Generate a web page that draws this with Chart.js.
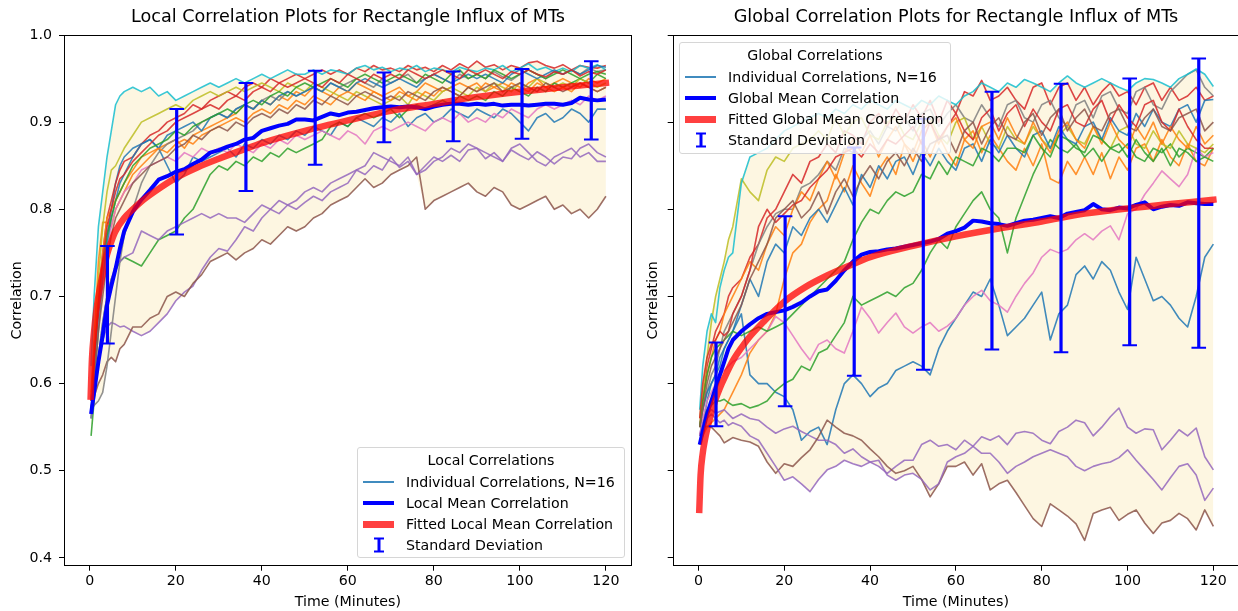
<!DOCTYPE html>
<html>
<head>
<meta charset="UTF-8">
<title>Correlation Plots for Rectangle Influx of MTs</title>
<script src="https://cdn.jsdelivr.net/npm/chart.js@4.4.0/dist/chart.umd.min.js"></script>
<style>
  html, body { margin: 0; padding: 0; background: #fff; overflow: hidden; width: 1238px; height: 611px; }
  canvas { position: absolute; top: 0; }
  .leg { position: absolute; background: rgba(255,255,255,0.8); border: 1px solid #d6d6d6; border-radius: 3px;
         box-sizing: border-box; font-family: "DejaVu Sans", sans-serif; font-size: 14.2px; color: #000; }
  .leg .ttl { position: absolute; left: 0; right: 0; text-align: center; line-height: 18px; white-space: nowrap; }
  .leg .txt { position: absolute; line-height: 18px; white-space: nowrap; }
  .leg .hd { position: absolute; }
</style>
</head>
<body>
<canvas id="cL" width="696" height="611" style="left:0"></canvas>
<canvas id="cG" width="672" height="611" style="left:620px"></canvas>

<div class="leg" style="left:357px;top:447px;width:268px;height:111px">
  <div class="ttl" style="top:3px">Local Correlations</div>
  <div class="hd" style="left:5px;top:33px;width:31px;height:1.6px;background:rgba(31,119,180,0.85)"></div>
  <div class="txt" style="left:48px;top:25px">Individual Correlations, N=16</div>
  <div class="hd" style="left:5px;top:53px;width:31px;height:4px;background:#0000ff"></div>
  <div class="txt" style="left:48px;top:46px">Local Mean Correlation</div>
  <div class="hd" style="left:5px;top:73px;width:31px;height:6.5px;background:rgba(255,0,0,0.75)"></div>
  <div class="txt" style="left:48px;top:67px">Fitted Local Mean Correlation</div>
  <svg class="hd" style="left:15px;top:89px" width="12" height="16"><path d="M6 1.5V14.5" stroke="#0000ff" stroke-width="3"/><path d="M1 1.5H11M1 14.5H11" stroke="#0000ff" stroke-width="2"/></svg>
  <div class="txt" style="left:48px;top:88px">Standard Deviation</div>
</div>

<div class="leg" style="left:679px;top:42px;width:272px;height:112px">
  <div class="ttl" style="top:3px">Global Correlations</div>
  <div class="hd" style="left:5px;top:33px;width:31px;height:1.6px;background:rgba(31,119,180,0.85)"></div>
  <div class="txt" style="left:48px;top:25px">Individual Correlations, N=16</div>
  <div class="hd" style="left:5px;top:53px;width:31px;height:4px;background:#0000ff"></div>
  <div class="txt" style="left:48px;top:46px">Global Mean Correlation</div>
  <div class="hd" style="left:5px;top:73px;width:31px;height:6.5px;background:rgba(255,0,0,0.75)"></div>
  <div class="txt" style="left:48px;top:67px">Fitted Global Mean Correlation</div>
  <svg class="hd" style="left:15px;top:89px" width="12" height="16"><path d="M6 1.5V14.5" stroke="#0000ff" stroke-width="3"/><path d="M1 1.5H11M1 14.5H11" stroke="#0000ff" stroke-width="2"/></svg>
  <div class="txt" style="left:48px;top:88px">Standard Deviation</div>
</div>

<script>
// sample times (minutes) shared by every individual run and the mean curves
const T = [0.3,1,2,3,4,5,6,7,8,
  10,12,14,16,18,20,22,24,26,28,
  30,32,34,36,38,40,42,44,46,48,
  50,52,54,56,58,60,62,64,66,68,
  70,72,74,76,78,80,82,84,86,88,
  90,92,94,96,98,100,102,104,106,108,
  110,112,114,116,118,120];

const X_TICKS = [0,20,40,60,80,100,120];
const Y_TICKS = [0.4,0.5,0.6,0.7,0.8,0.9,1.0];

// ---- local correlations, 16 runs ----
const L01 = [0.57,0.60,0.66,0.72,0.77,0.80,0.83,0.85,0.86,
  0.87,0.875,0.88,0.87,0.85,0.83,0.84,0.86,0.855,0.86,
  0.865,0.87,0.86,0.875,0.87,0.88,0.875,0.885,0.88,0.89,
  0.885,0.895,0.89,0.885,0.9,0.895,0.905,0.9,0.895,0.905,
  0.9,0.91,0.895,0.905,0.91,0.9,0.905,0.915,0.91,0.905,
  0.915,0.91,0.905,0.915,0.91,0.9,0.89,0.905,0.91,0.9,
  0.905,0.915,0.91,0.9,0.915,0.915];
const L02 = [0.59,0.65,0.74,0.785,0.785,0.78,0.80,0.81,0.82,
  0.84,0.85,0.86,0.87,0.875,0.88,0.87,0.885,0.89,0.895,
  0.9,0.905,0.91,0.92,0.915,0.925,0.92,0.93,0.925,0.935,
  0.93,0.94,0.935,0.93,0.94,0.935,0.945,0.94,0.935,0.93,
  0.935,0.94,0.93,0.935,0.945,0.94,0.935,0.94,0.945,0.94,
  0.945,0.935,0.94,0.945,0.94,0.935,0.945,0.95,0.94,0.945,
  0.95,0.945,0.94,0.95,0.945,0.95];
const L03 = [0.54,0.58,0.63,0.67,0.70,0.72,0.73,0.74,0.745,
  0.74,0.735,0.75,0.765,0.77,0.775,0.79,0.80,0.82,0.84,
  0.85,0.845,0.855,0.85,0.86,0.855,0.865,0.86,0.87,0.865,
  0.87,0.875,0.88,0.895,0.9,0.895,0.905,0.91,0.905,0.91,
  0.915,0.905,0.915,0.92,0.915,0.92,0.925,0.92,0.93,0.925,
  0.93,0.925,0.935,0.93,0.94,0.935,0.93,0.94,0.935,0.945,
  0.94,0.945,0.95,0.945,0.955,0.95];
const L04 = [0.58,0.64,0.70,0.75,0.79,0.81,0.83,0.845,0.855,
  0.86,0.875,0.885,0.89,0.9,0.905,0.91,0.92,0.915,0.925,
  0.93,0.935,0.93,0.94,0.945,0.94,0.95,0.945,0.95,0.955,
  0.95,0.955,0.96,0.955,0.96,0.955,0.962,0.958,0.965,0.96,
  0.962,0.958,0.965,0.96,0.963,0.958,0.965,0.96,0.967,0.962,
  0.97,0.963,0.966,0.96,0.965,0.962,0.968,0.97,0.965,0.962,
  0.966,0.96,0.965,0.963,0.962,0.965];
const L05 = [0.57,0.60,0.63,0.65,0.665,0.67,0.668,0.665,0.666,
  0.66,0.655,0.66,0.67,0.68,0.695,0.705,0.712,0.73,0.745,
  0.755,0.752,0.765,0.78,0.775,0.79,0.80,0.795,0.805,0.80,
  0.808,0.815,0.81,0.82,0.825,0.83,0.845,0.84,0.85,0.845,
  0.86,0.848,0.855,0.84,0.85,0.86,0.855,0.862,0.855,0.868,
  0.87,0.858,0.865,0.855,0.868,0.862,0.857,0.866,0.86,0.852,
  0.86,0.858,0.87,0.875,0.865,0.86];
const L06 = [0.58,0.585,0.60,0.61,0.625,0.63,0.625,0.64,0.645,
  0.665,0.665,0.675,0.68,0.70,0.705,0.70,0.715,0.725,0.74,
  0.745,0.75,0.742,0.75,0.755,0.765,0.76,0.77,0.78,0.775,
  0.78,0.79,0.795,0.805,0.81,0.815,0.825,0.835,0.825,0.83,
  0.84,0.845,0.85,0.86,0.80,0.81,0.815,0.82,0.825,0.83,
  0.82,0.815,0.825,0.82,0.805,0.80,0.805,0.81,0.815,0.80,
  0.805,0.795,0.80,0.79,0.80,0.815];
const L07 = [0.58,0.62,0.68,0.72,0.75,0.78,0.80,0.81,0.82,
  0.83,0.845,0.85,0.855,0.86,0.855,0.865,0.86,0.87,0.865,
  0.87,0.865,0.875,0.87,0.865,0.875,0.87,0.88,0.875,0.885,
  0.88,0.885,0.89,0.885,0.88,0.89,0.885,0.875,0.89,0.895,
  0.89,0.895,0.9,0.895,0.89,0.9,0.905,0.9,0.91,0.9,
  0.905,0.9,0.91,0.905,0.915,0.91,0.905,0.915,0.92,0.915,
  0.92,0.925,0.92,0.93,0.925,0.93];
const L08 = [0.57,0.575,0.58,0.59,0.62,0.66,0.70,0.74,0.77,
  0.80,0.83,0.85,0.865,0.875,0.88,0.885,0.89,0.9,0.905,
  0.91,0.905,0.915,0.92,0.915,0.925,0.93,0.925,0.935,0.93,
  0.935,0.94,0.935,0.945,0.94,0.945,0.95,0.945,0.94,0.95,
  0.945,0.95,0.955,0.945,0.95,0.955,0.95,0.945,0.955,0.95,
  0.955,0.95,0.958,0.952,0.948,0.955,0.96,0.955,0.95,0.958,
  0.955,0.96,0.955,0.962,0.958,0.96];
const L09 = [0.58,0.64,0.72,0.78,0.82,0.845,0.85,0.86,0.87,
  0.885,0.9,0.905,0.91,0.915,0.92,0.915,0.925,0.93,0.935,
  0.93,0.935,0.94,0.935,0.94,0.945,0.94,0.935,0.945,0.94,
  0.935,0.945,0.94,0.935,0.93,0.925,0.935,0.93,0.925,0.92,
  0.925,0.93,0.92,0.935,0.93,0.925,0.935,0.94,0.935,0.93,
  0.94,0.935,0.945,0.94,0.935,0.945,0.94,0.95,0.945,0.94,
  0.945,0.94,0.95,0.945,0.94,0.945];
const L10 = [0.62,0.70,0.78,0.82,0.86,0.89,0.92,0.93,0.935,
  0.94,0.935,0.94,0.93,0.935,0.925,0.93,0.935,0.94,0.945,
  0.94,0.945,0.95,0.945,0.95,0.955,0.95,0.955,0.96,0.955,
  0.955,0.96,0.955,0.96,0.958,0.955,0.962,0.965,0.96,0.963,
  0.958,0.962,0.96,0.965,0.958,0.962,0.96,0.957,0.963,0.96,
  0.958,0.962,0.96,0.965,0.958,0.962,0.967,0.96,0.963,0.958,
  0.962,0.958,0.965,0.962,0.966,0.96];
const L11 = [0.57,0.62,0.68,0.72,0.76,0.79,0.81,0.83,0.84,
  0.86,0.875,0.88,0.87,0.885,0.89,0.895,0.9,0.89,0.905,
  0.91,0.905,0.915,0.92,0.915,0.925,0.92,0.93,0.935,0.93,
  0.935,0.94,0.935,0.945,0.94,0.935,0.945,0.95,0.945,0.94,
  0.945,0.95,0.945,0.94,0.95,0.955,0.95,0.945,0.95,0.955,
  0.95,0.955,0.95,0.945,0.955,0.96,0.955,0.95,0.955,0.96,
  0.955,0.96,0.955,0.96,0.965,0.963];
const L12 = [0.58,0.63,0.70,0.75,0.79,0.80,0.81,0.82,0.83,
  0.845,0.86,0.865,0.87,0.865,0.875,0.88,0.875,0.885,0.89,
  0.895,0.9,0.905,0.9,0.91,0.915,0.91,0.92,0.915,0.925,
  0.92,0.93,0.925,0.92,0.93,0.935,0.93,0.925,0.935,0.93,
  0.925,0.935,0.93,0.925,0.935,0.93,0.94,0.935,0.93,0.94,
  0.935,0.945,0.94,0.935,0.945,0.94,0.935,0.945,0.94,0.935,
  0.94,0.935,0.945,0.94,0.935,0.94];
const L13 = [0.56,0.62,0.69,0.74,0.77,0.79,0.81,0.82,0.83,
  0.85,0.86,0.87,0.875,0.88,0.89,0.885,0.895,0.9,0.905,
  0.91,0.915,0.91,0.92,0.925,0.92,0.93,0.935,0.93,0.94,
  0.945,0.94,0.945,0.95,0.945,0.94,0.95,0.955,0.95,0.945,
  0.95,0.955,0.95,0.945,0.955,0.95,0.945,0.955,0.96,0.95,
  0.955,0.95,0.96,0.955,0.95,0.955,0.96,0.955,0.95,0.955,
  0.96,0.955,0.95,0.955,0.958,0.955];
const L14 = [0.58,0.63,0.69,0.74,0.78,0.80,0.82,0.835,0.84,
  0.855,0.865,0.875,0.885,0.89,0.9,0.905,0.91,0.915,0.92,
  0.915,0.925,0.93,0.925,0.935,0.94,0.935,0.945,0.94,0.945,
  0.95,0.945,0.94,0.95,0.945,0.955,0.95,0.945,0.955,0.95,
  0.955,0.95,0.96,0.955,0.95,0.955,0.96,0.955,0.95,0.96,
  0.955,0.96,0.955,0.95,0.958,0.955,0.96,0.955,0.952,0.958,
  0.955,0.96,0.953,0.958,0.955,0.96];
const L15 = [0.56,0.59,0.63,0.67,0.70,0.72,0.735,0.74,0.745,
  0.75,0.775,0.77,0.765,0.775,0.78,0.785,0.79,0.795,0.79,
  0.795,0.79,0.79,0.785,0.795,0.805,0.80,0.81,0.805,0.81,
  0.82,0.825,0.82,0.83,0.835,0.84,0.845,0.85,0.865,0.86,
  0.855,0.85,0.86,0.84,0.845,0.855,0.86,0.87,0.865,0.875,
  0.87,0.865,0.86,0.855,0.87,0.875,0.865,0.855,0.85,0.86,
  0.865,0.87,0.86,0.865,0.855,0.855];
const L16 = [0.57,0.60,0.66,0.70,0.74,0.77,0.79,0.80,0.81,
  0.83,0.84,0.85,0.855,0.86,0.87,0.875,0.885,0.88,0.89,
  0.895,0.89,0.9,0.895,0.905,0.91,0.905,0.915,0.91,0.92,
  0.915,0.925,0.92,0.93,0.925,0.92,0.93,0.935,0.93,0.925,
  0.93,0.925,0.935,0.93,0.925,0.935,0.94,0.935,0.93,0.94,
  0.935,0.94,0.945,0.935,0.94,0.945,0.94,0.935,0.945,0.94,
  0.935,0.94,0.945,0.94,0.935,0.94];

const LOCAL_MEAN = [0.565,0.59,0.625,0.655,0.69,0.712,0.732,0.755,0.775,
  0.797,0.811,0.822,0.834,0.838,0.843,0.846,0.852,0.857,0.865,
  0.868,0.872,0.875,0.88,0.882,0.89,0.893,0.896,0.898,0.903,
  0.903,0.902,0.906,0.91,0.908,0.911,0.912,0.914,0.916,0.917,
  0.918,0.917,0.918,0.917,0.915,0.918,0.92,0.921,0.921,0.92,
  0.921,0.92,0.921,0.919,0.92,0.92,0.919,0.92,0.921,0.921,
  0.92,0.922,0.928,0.926,0.925,0.926];

const FIT_T = [0.2,0.5,1,1.5,2,3,4,5,6,8,10,12,15,20,25,30,36,40,50,60,70,80,90,100,110,120];
const LOCAL_FIT = [0.585,0.628,0.66,0.683,0.70,0.726,0.748,0.763,0.775,0.79,0.80,0.809,0.82,0.836,0.848,0.858,0.869,0.876,0.89,0.902,0.913,0.921,0.929,0.935,0.94,0.945];

const ERR_T = [4.1,20.2,36.3,52.4,68.4,84.5,100.5,116.6];
const LOCAL_ERR_MID = [0.702,0.843,0.883,0.905,0.917,0.918,0.921,0.925];
const LOCAL_ERR_SD = [0.056,0.072,0.062,0.054,0.040,0.040,0.040,0.045];

// ---- global correlations, 16 runs ----
const G01 = [0.53,0.55,0.58,0.60,0.61,0.63,0.64,0.65,0.66,
  0.68,0.61,0.60,0.60,0.59,0.585,0.57,0.535,0.545,0.55,
  0.53,0.57,0.60,0.61,0.60,0.585,0.595,0.60,0.615,0.62,
  0.625,0.62,0.61,0.64,0.66,0.675,0.69,0.705,0.70,0.72,
  0.69,0.655,0.665,0.675,0.69,0.705,0.65,0.68,0.69,0.725,
  0.735,0.72,0.74,0.73,0.705,0.685,0.745,0.72,0.695,0.70,
  0.69,0.675,0.665,0.70,0.745,0.76];
const G02 = [0.53,0.54,0.55,0.555,0.56,0.565,0.57,0.58,0.59,
  0.61,0.635,0.65,0.66,0.68,0.72,0.75,0.76,0.785,0.80,
  0.81,0.84,0.82,0.85,0.83,0.815,0.845,0.86,0.84,0.875,
  0.855,0.88,0.86,0.885,0.865,0.85,0.88,0.89,0.865,0.885,
  0.87,0.855,0.845,0.87,0.85,0.875,0.835,0.83,0.855,0.84,
  0.86,0.84,0.865,0.835,0.86,0.845,0.87,0.875,0.855,0.88,
  0.86,0.85,0.875,0.855,0.85,0.87];
const G03 = [0.54,0.55,0.57,0.575,0.58,0.58,0.582,0.578,0.575,
  0.577,0.572,0.575,0.58,0.592,0.60,0.605,0.62,0.615,0.635,
  0.64,0.655,0.67,0.70,0.69,0.695,0.70,0.705,0.70,0.71,
  0.715,0.73,0.75,0.765,0.755,0.78,0.795,0.81,0.82,0.80,
  0.79,0.75,0.79,0.815,0.84,0.86,0.88,0.87,0.865,0.875,
  0.86,0.87,0.855,0.87,0.865,0.875,0.86,0.855,0.87,0.865,
  0.875,0.86,0.87,0.865,0.86,0.87];
const G04 = [0.55,0.58,0.62,0.64,0.66,0.67,0.68,0.70,0.71,
  0.72,0.745,0.76,0.79,0.80,0.82,0.84,0.83,0.855,0.86,
  0.875,0.865,0.89,0.885,0.875,0.9,0.91,0.895,0.915,0.9,
  0.92,0.905,0.925,0.9,0.925,0.91,0.935,0.93,0.948,0.925,
  0.93,0.94,0.925,0.915,0.94,0.945,0.92,0.94,0.945,0.925,
  0.94,0.92,0.935,0.945,0.93,0.935,0.92,0.94,0.945,0.925,
  0.94,0.925,0.93,0.94,0.925,0.93];
const G05 = [0.54,0.56,0.565,0.57,0.566,0.568,0.57,0.565,0.56,
  0.565,0.56,0.558,0.55,0.543,0.548,0.551,0.545,0.54,0.535,
  0.535,0.53,0.52,0.525,0.516,0.51,0.505,0.497,0.505,0.512,
  0.512,0.53,0.535,0.528,0.53,0.524,0.535,0.528,0.539,0.535,
  0.54,0.53,0.543,0.545,0.543,0.535,0.531,0.545,0.55,0.558,
  0.555,0.54,0.55,0.562,0.572,0.55,0.543,0.548,0.547,0.524,
  0.535,0.547,0.54,0.549,0.516,0.501];
const G06 = [0.54,0.55,0.551,0.55,0.545,0.54,0.532,0.535,0.538,
  0.535,0.533,0.528,0.51,0.497,0.508,0.505,0.515,0.524,0.539,
  0.558,0.55,0.543,0.54,0.535,0.525,0.516,0.505,0.497,0.50,
  0.505,0.49,0.47,0.485,0.505,0.505,0.51,0.495,0.508,0.478,
  0.485,0.489,0.475,0.46,0.445,0.436,0.462,0.455,0.448,0.439,
  0.42,0.451,0.455,0.458,0.443,0.45,0.455,0.44,0.428,0.44,
  0.443,0.451,0.445,0.432,0.455,0.436];
const G07 = [0.54,0.56,0.58,0.59,0.60,0.61,0.615,0.62,0.625,
  0.63,0.64,0.65,0.66,0.677,0.67,0.655,0.64,0.627,0.645,
  0.65,0.64,0.635,0.66,0.688,0.675,0.658,0.67,0.681,0.665,
  0.658,0.665,0.67,0.66,0.666,0.675,0.69,0.70,0.707,0.695,
  0.69,0.682,0.70,0.715,0.727,0.745,0.754,0.75,0.754,0.765,
  0.772,0.765,0.775,0.781,0.765,0.795,0.80,0.817,0.83,0.844,
  0.835,0.826,0.84,0.87,0.86,0.865];
const G08 = [0.55,0.57,0.59,0.61,0.62,0.64,0.66,0.67,0.68,
  0.70,0.73,0.76,0.78,0.795,0.80,0.80,0.825,0.83,0.84,
  0.855,0.845,0.87,0.865,0.88,0.89,0.875,0.895,0.89,0.905,
  0.89,0.91,0.915,0.895,0.91,0.92,0.905,0.9,0.92,0.905,
  0.895,0.92,0.925,0.905,0.9,0.92,0.925,0.905,0.895,0.92,
  0.925,0.905,0.93,0.935,0.915,0.91,0.935,0.94,0.92,0.915,
  0.935,0.945,0.955,0.96,0.94,0.93];
const G09 = [0.56,0.59,0.63,0.67,0.70,0.72,0.74,0.765,0.78,
  0.835,0.82,0.81,0.845,0.86,0.855,0.87,0.875,0.88,0.89,
  0.88,0.905,0.885,0.9,0.905,0.885,0.88,0.9,0.905,0.885,
  0.88,0.9,0.905,0.885,0.875,0.9,0.905,0.88,0.895,0.875,
  0.87,0.895,0.88,0.875,0.895,0.88,0.87,0.885,0.895,0.88,
  0.875,0.895,0.88,0.87,0.89,0.895,0.875,0.87,0.89,0.875,
  0.87,0.89,0.875,0.87,0.865,0.875];
const G10 = [0.57,0.62,0.66,0.68,0.67,0.71,0.73,0.745,0.75,
  0.83,0.86,0.865,0.87,0.88,0.89,0.895,0.9,0.905,0.91,
  0.905,0.915,0.91,0.92,0.915,0.925,0.92,0.915,0.925,0.92,
  0.915,0.925,0.92,0.93,0.925,0.92,0.93,0.935,0.945,0.94,
  0.935,0.945,0.94,0.949,0.945,0.94,0.935,0.945,0.953,0.945,
  0.94,0.945,0.95,0.945,0.94,0.936,0.945,0.95,0.949,0.945,
  0.94,0.95,0.955,0.961,0.955,0.941];
const G11 = [0.55,0.57,0.59,0.60,0.61,0.62,0.64,0.65,0.66,
  0.69,0.72,0.70,0.74,0.76,0.75,0.78,0.77,0.79,0.80,
  0.785,0.805,0.825,0.805,0.84,0.825,0.85,0.835,0.855,0.86,
  0.84,0.865,0.85,0.87,0.855,0.845,0.87,0.875,0.855,0.88,
  0.865,0.885,0.87,0.86,0.885,0.89,0.87,0.895,0.88,0.875,
  0.895,0.9,0.88,0.905,0.89,0.885,0.91,0.895,0.915,0.9,
  0.895,0.915,0.92,0.9,0.925,0.926];
const G12 = [0.55,0.58,0.61,0.63,0.65,0.66,0.68,0.69,0.70,
  0.72,0.74,0.73,0.76,0.78,0.77,0.80,0.82,0.81,0.835,
  0.855,0.835,0.865,0.88,0.865,0.885,0.86,0.88,0.895,0.875,
  0.865,0.89,0.9,0.875,0.895,0.905,0.88,0.87,0.895,0.9,
  0.88,0.905,0.885,0.875,0.9,0.88,0.865,0.89,0.9,0.88,
  0.87,0.895,0.875,0.9,0.88,0.87,0.895,0.88,0.9,0.875,
  0.895,0.88,0.87,0.895,0.875,0.885];
const G13 = [0.55,0.58,0.61,0.63,0.64,0.645,0.65,0.655,0.66,
  0.655,0.66,0.665,0.66,0.665,0.67,0.68,0.69,0.70,0.71,
  0.72,0.73,0.74,0.765,0.785,0.80,0.795,0.81,0.82,0.815,
  0.82,0.84,0.835,0.855,0.84,0.86,0.855,0.85,0.87,0.865,
  0.855,0.87,0.87,0.865,0.885,0.87,0.86,0.885,0.88,0.87,
  0.865,0.885,0.88,0.87,0.875,0.86,0.88,0.865,0.855,0.87,
  0.85,0.87,0.865,0.855,0.86,0.855];
const G14 = [0.56,0.60,0.63,0.645,0.65,0.66,0.655,0.66,0.68,
  0.70,0.73,0.78,0.80,0.785,0.795,0.805,0.81,0.825,0.835,
  0.845,0.86,0.865,0.87,0.86,0.875,0.865,0.88,0.875,0.885,
  0.895,0.875,0.9,0.88,0.895,0.91,0.89,0.88,0.905,0.915,
  0.89,0.91,0.92,0.895,0.915,0.9,0.89,0.915,0.92,0.9,
  0.895,0.915,0.925,0.9,0.92,0.905,0.895,0.92,0.925,0.9,
  0.89,0.915,0.895,0.88,0.87,0.87];
const G15 = [0.54,0.555,0.56,0.565,0.56,0.555,0.558,0.552,0.555,
  0.551,0.54,0.535,0.52,0.505,0.489,0.493,0.485,0.476,0.49,
  0.501,0.505,0.512,0.508,0.505,0.51,0.512,0.495,0.489,0.495,
  0.497,0.49,0.478,0.485,0.51,0.516,0.52,0.528,0.52,0.52,
  0.51,0.497,0.505,0.51,0.516,0.52,0.524,0.52,0.516,0.505,
  0.5,0.505,0.508,0.51,0.515,0.524,0.512,0.501,0.49,0.478,
  0.492,0.505,0.508,0.495,0.466,0.48];
const G16 = [0.55,0.57,0.60,0.62,0.63,0.64,0.65,0.66,0.67,
  0.69,0.72,0.74,0.76,0.79,0.80,0.81,0.79,0.80,0.82,
  0.795,0.82,0.835,0.815,0.835,0.85,0.835,0.855,0.865,0.85,
  0.87,0.855,0.875,0.88,0.885,0.865,0.89,0.9,0.875,0.895,
  0.905,0.885,0.88,0.9,0.91,0.885,0.905,0.915,0.89,0.905,
  0.915,0.895,0.89,0.91,0.915,0.895,0.89,0.905,0.915,0.895,
  0.89,0.905,0.91,0.915,0.89,0.9];

const GLOBAL_MEAN = [0.53,0.545,0.565,0.58,0.595,0.61,0.625,0.64,0.65,
  0.66,0.668,0.675,0.68,0.682,0.684,0.688,0.693,0.70,0.706,
  0.708,0.718,0.73,0.74,0.748,0.751,0.752,0.754,0.755,0.757,
  0.759,0.761,0.763,0.766,0.772,0.775,0.779,0.787,0.786,0.784,
  0.783,0.781,0.784,0.787,0.788,0.79,0.792,0.79,0.795,0.797,
  0.799,0.806,0.8,0.799,0.802,0.801,0.805,0.808,0.8,0.803,
  0.805,0.804,0.808,0.807,0.806,0.806];

const GLOBAL_FIT = [0.455,0.495,0.52,0.535,0.547,0.566,0.582,0.595,0.606,0.626,0.641,0.654,0.67,0.694,0.711,0.724,0.737,0.745,0.758,0.769,0.778,0.786,0.795,0.801,0.806,0.811];

const GLOBAL_ERR_MID = [0.599,0.683,0.740,0.760,0.787,0.790,0.797,0.807];
const GLOBAL_ERR_SD = [0.048,0.109,0.131,0.144,0.148,0.154,0.153,0.166];

const LOCAL_RUNS = [L01,L02,L03,L04,L05,L06,L07,L08,L09,L10,L11,L12,L13,L14,L15,L16];
const GLOBAL_RUNS = [G01,G02,G03,G04,G05,G06,G07,G08,G09,G10,G11,G12,G13,G14,G15,G16];

const TAB10 = ['31,119,180','255,127,14','44,160,44','214,39,40','148,103,189',
               '140,86,75','227,119,194','127,127,127','188,189,34','23,190,207'];
const FONT = 'DejaVu Sans';
const FILL = '#fdf6e1';
const CAP_HALF = 1.7;   // minutes

function pts(xs, ys) {
  return xs.map((x, i) => ({ x: x, y: ys[i] }));
}

// vertical stems of the error bars, broken with null points
function stems(xs, mid, sd) {
  const out = [];
  xs.forEach((x, i) => {
    out.push({ x: x, y: mid[i] - sd[i] }, { x: x, y: mid[i] + sd[i] }, { x: x, y: null });
  });
  return out;
}
function caps(xs, mid, sd) {
  const out = [];
  xs.forEach((x, i) => {
    const lo = mid[i] - sd[i], hi = mid[i] + sd[i];
    out.push({ x: x - CAP_HALF, y: hi }, { x: x + CAP_HALF, y: hi }, { x: x, y: null });
    out.push({ x: x - CAP_HALF, y: lo }, { x: x + CAP_HALF, y: lo }, { x: x, y: null });
  });
  return out;
}

// black box round the plot area, like the matplotlib spines
const frame = {
  id: 'frame',
  afterDatasetsDraw(chart) {
    const a = chart.chartArea, ctx = chart.ctx;
    ctx.save();
    ctx.strokeStyle = '#000';
    ctx.lineWidth = 1;
    ctx.strokeRect(Math.round(a.left) + 0.5, Math.round(a.top) + 0.5,
                   Math.round(a.right - a.left) - 1, Math.round(a.bottom - a.top) - 1);
    ctx.restore();
  }
};

function makeChart(id, opt) {
  const runs = opt.runs;
  const lo = T.map((_, i) => Math.min(...runs.map(r => r[i])));
  const hi = T.map((_, i) => Math.max(...runs.map(r => r[i])));

  const datasets = [
    { data: pts(T, lo), borderColor: 'rgba(0,0,0,0)', borderWidth: 1, fill: false, order: 50 },
    { data: pts(T, hi), borderColor: 'rgba(0,0,0,0)', borderWidth: 1, fill: '-1', backgroundColor: FILL, order: 50 }
  ];
  runs.forEach((r, i) => {
    datasets.push({ data: pts(T, r), borderColor: 'rgba(' + TAB10[i % 10] + ',0.85)',
                    borderWidth: 1.6, order: 40 - i });
  });
  datasets.push({ data: pts(T, opt.mean), borderColor: '#0000ff', borderWidth: 4, order: 3 });
  datasets.push({ data: pts(FIT_T, opt.fit), borderColor: 'rgba(255,0,0,0.75)', borderWidth: 6.5,
                  cubicInterpolationMode: 'monotone', borderCapStyle: 'square', order: 2 });
  datasets.push({ data: stems(ERR_T, opt.errMid, opt.errSd), borderColor: '#0000ff', borderWidth: 3.2,
                  borderCapStyle: 'butt', order: 1 });
  datasets.push({ data: caps(ERR_T, opt.errMid, opt.errSd), borderColor: '#0000ff', borderWidth: 2,
                  order: 0 });

  return new Chart(document.getElementById(id), {
    type: 'line',
    data: { datasets: datasets },
    plugins: [frame],
    options: {
      responsive: false,
      animation: false,
      devicePixelRatio: 1,
      events: [],
      spanGaps: false,
      elements: { point: { radius: 0 }, line: { tension: 0, borderJoinStyle: 'round' } },
      layout: { padding: 0 },
      plugins: {
        legend: { display: false },
        tooltip: { enabled: false },
        title: { display: true, text: opt.title, color: '#000',
                 font: { family: FONT, size: 17.6, weight: 'normal' }, padding: { top: 6.8, bottom: 7.1 } }
      },
      scales: {
        x: {
          type: 'linear', min: -6, max: 126,
          afterBuildTicks: s => { s.ticks = X_TICKS.map(v => ({ value: v })); },
          afterFit: s => { s.height = 45.3; },
          grid: { drawOnChartArea: false, tickLength: 5, color: '#000' },
          border: { display: false },
          ticks: { color: '#000', padding: 2, maxRotation: 0, font: { family: FONT, size: 14.2 },
                   callback: v => String(v) },
          title: { display: true, text: 'Time (Minutes)', color: '#000',
                   font: { family: FONT, size: 14.2 }, padding: { top: 0, bottom: 0.5 } }
        },
        y: {
          type: 'linear', min: 0.391, max: 1.0,
          afterBuildTicks: s => { s.ticks = Y_TICKS.map(v => ({ value: v })); },
          afterFit: s => { s.width = opt.yWidth; },
          grid: { drawOnChartArea: false, tickLength: 5, color: '#000' },
          border: { display: false },
          ticks: { color: '#000', padding: 7, font: { family: FONT, size: 14.2 },
                   callback: v => opt.yLabels ? v.toFixed(1) : '' },
          title: { display: true, text: 'Correlation', color: '#000',
                   font: { family: FONT, size: 14.2 }, padding: { top: opt.yTitlePad, bottom: 0 } }
        },
        spacer: {
          type: 'linear', position: 'right', display: true,
          grid: { display: false }, border: { display: false }, ticks: { display: false },
          afterFit: s => { s.width = opt.spacer; }
        }
      }
    }
  });
}

makeChart('cL', {
  title: 'Local Correlation Plots for Rectangle Influx of MTs',
  runs: LOCAL_RUNS, mean: LOCAL_MEAN, fit: LOCAL_FIT,
  errMid: LOCAL_ERR_MID, errSd: LOCAL_ERR_SD,
  yLabels: true, yWidth: 64, yTitlePad: 8.5, spacer: 64.3
});
makeChart('cG', {
  title: 'Global Correlation Plots for Rectangle Influx of MTs',
  runs: GLOBAL_RUNS, mean: GLOBAL_MEAN, fit: GLOBAL_FIT,
  errMid: GLOBAL_ERR_MID, errSd: GLOBAL_ERR_SD,
  yLabels: false, yWidth: 52.7, yTitlePad: 24.5, spacer: 52.9
});
</script>
</body>
</html>
